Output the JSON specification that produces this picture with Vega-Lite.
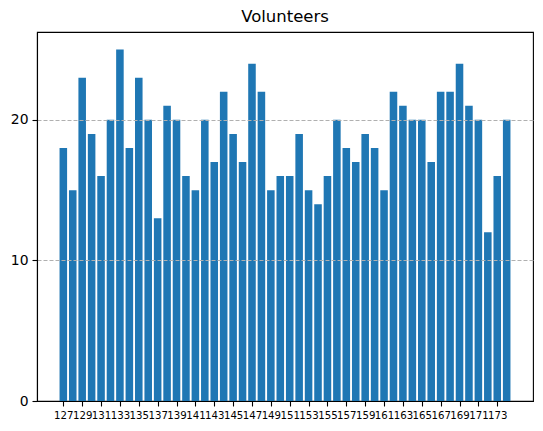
{
  "$schema": "https://vega.github.io/schema/vega-lite/v6.json",
  "autosize": "none",
  "padding": {"left": 37, "top": 32, "right": 10, "bottom": 30},
  "width": 496,
  "height": 369,
  "title": {
    "text": "Volunteers",
    "font": "DejaVu Sans",
    "fontSize": 16.5,
    "fontWeight": "normal",
    "color": "black",
    "offset": 7,
    "anchor": "middle"
  },
  "data": {
    "values": [
      {"id": 127, "count": 18}, {"id": 128, "count": 15}, {"id": 129, "count": 23},
      {"id": 130, "count": 19}, {"id": 131, "count": 16}, {"id": 132, "count": 20},
      {"id": 133, "count": 25}, {"id": 134, "count": 18}, {"id": 135, "count": 23},
      {"id": 136, "count": 20}, {"id": 137, "count": 13}, {"id": 138, "count": 21},
      {"id": 139, "count": 20}, {"id": 140, "count": 16}, {"id": 141, "count": 15},
      {"id": 142, "count": 20}, {"id": 143, "count": 17}, {"id": 144, "count": 22},
      {"id": 145, "count": 19}, {"id": 146, "count": 17}, {"id": 147, "count": 24},
      {"id": 148, "count": 22}, {"id": 149, "count": 15}, {"id": 150, "count": 16},
      {"id": 151, "count": 16}, {"id": 152, "count": 19}, {"id": 153, "count": 15},
      {"id": 154, "count": 14}, {"id": 155, "count": 16}, {"id": 156, "count": 20},
      {"id": 157, "count": 18}, {"id": 158, "count": 17}, {"id": 159, "count": 19},
      {"id": 160, "count": 18}, {"id": 161, "count": 15}, {"id": 162, "count": 22},
      {"id": 163, "count": 21}, {"id": 164, "count": 20}, {"id": 165, "count": 20},
      {"id": 166, "count": 17}, {"id": 167, "count": 22}, {"id": 168, "count": 22},
      {"id": 169, "count": 24}, {"id": 170, "count": 21}, {"id": 171, "count": 20},
      {"id": 172, "count": 12}, {"id": 173, "count": 16}, {"id": 174, "count": 20}
    ]
  },
  "mark": {"type": "bar", "size": 7.55, "color": "#1f77b4"},
  "encoding": {
    "x": {
      "field": "id",
      "type": "quantitative",
      "scale": {"domain": [124.21, 176.79], "nice": false, "zero": false, "padding": 0},
      "axis": {
        "title": null,
        "values": [127, 129, 131, 133, 135, 137, 139, 141, 143, 145, 147, 149, 151, 153, 155, 157, 159, 161, 163, 165, 167, 169, 171, 173],
        "grid": false,
        "labelFontSize": 10.2,
        "labelOverlap": false,
        "labelFlush": false,
        "labelPadding": 4,
        "zindex": 1
      }
    },
    "y": {
      "field": "count",
      "type": "quantitative",
      "scale": {"domain": [0, 26.25], "nice": false, "padding": 0},
      "axis": {
        "title": null,
        "values": [0, 10, 20],
        "grid": true,
        "gridColor": {"condition": {"test": "datum.value === 0", "value": "transparent"}, "value": "#b0b0b0"},
        "gridDash": [4, 2],
        "gridWidth": 1,
        "labelFontSize": 13.9,
        "labelPadding": 4,
        "zindex": 1
      }
    }
  },
  "config": {
    "font": "DejaVu Sans",
    "view": {"stroke": "black", "strokeWidth": 1.1},
    "axis": {
      "domainColor": "black",
      "domainWidth": 1.1,
      "tickColor": "black",
      "tickWidth": 1.1,
      "tickSize": 5,
      "labelColor": "black",
      "labelFont": "DejaVu Sans"
    }
  }
}
